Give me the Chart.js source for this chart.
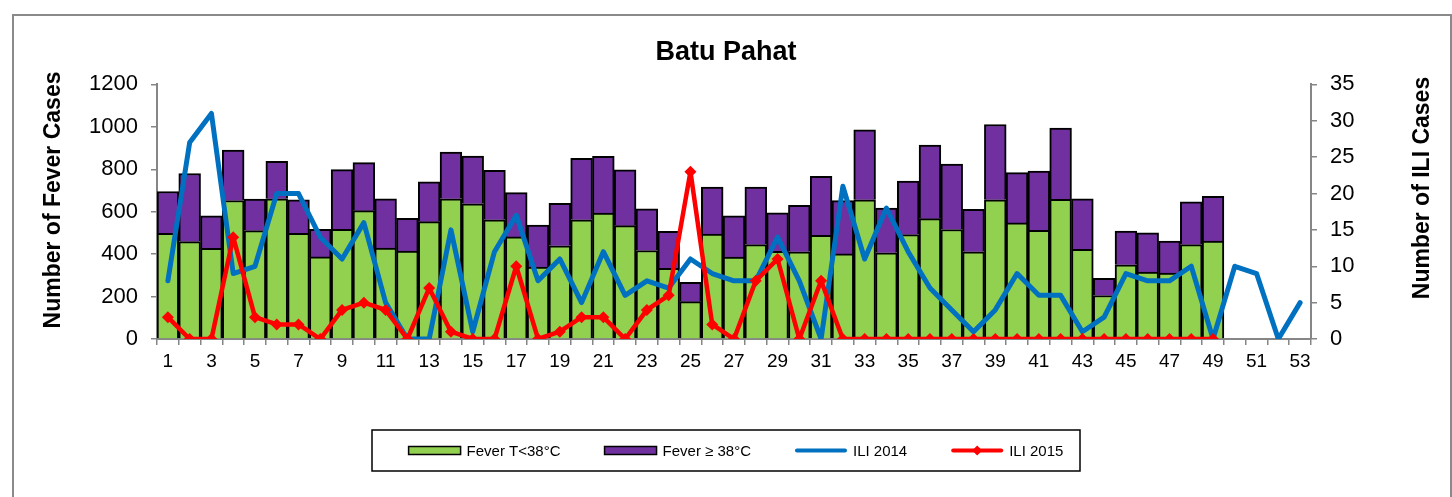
<!DOCTYPE html>
<html>
<head>
<meta charset="utf-8">
<title>Batu Pahat</title>
<script src="https://cdn.jsdelivr.net/npm/chart.js@4.4.1/dist/chart.umd.min.js"></script>
<style>
  html, body { margin: 0; padding: 0; background: #fff; }
  #wrap { position: relative; width: 1452px; height: 497px; overflow: hidden; }
  #frame { position: absolute; left: 12px; top: 14px; width: 1436px; height: 520px; border: 2px solid #8a8a8a; }
  #chart { position: absolute; left: 0; top: 0; }
</style>
</head>
<body>
<div id="wrap">
  <div id="frame"></div>
  <canvas id="chart" width="1452" height="497"></canvas>
</div>
<script>
// Epidemiological weeks
const weeks = ['1','2','3','4','5','6','7','8','9','10','11','12','13','14','15','16','17','18','19','20',
  '21','22','23','24','25','26','27','28','29','30','31','32','33','34','35','36','37','38','39','40',
  '41','42','43','44','45','46','47','48','49','50','51','52','53'];

// Fever cases (left axis), weeks 1-49
const feverLow = [498, 459, 427, 653, 511, 661, 498, 387, 517, 605, 428, 414, 553, 661, 637, 562, 481, 339, 439, 562,
  594, 534, 417, 333, 176, 494, 386, 445, 413, 411, 489, 401, 656, 406, 492, 567, 516, 411, 656, 547,
  512, 658, 423, 205, 350, 316, 311, 445, 462];
const feverHigh = [197, 321, 153, 238, 148, 176, 158, 130, 281, 226, 233, 155, 188, 220, 225, 233, 209, 198, 201, 289,
  267, 263, 197, 175, 91, 222, 194, 271, 182, 219, 278, 251, 330, 211, 252, 347, 309, 200, 355, 237,
  280, 336, 238, 81, 159, 184, 151, 202, 211];

// ILI cases (right axis)
const ili2014 = [8, 27, 31, 9, 10, 20, 20, 14, 11, 16, 5, 0, 0, 15, 1, 12, 17, 8, 11, 5,
  12, 6, 8, 7, 11, 9, 8, 8, 14, 8, 0, 21, 11, 18, 12, 7, 4, 1, 4, 9,
  6, 6, 1, 3, 9, 8, 8, 10, 0, 10, 9, 0, 5];
const ili2015 = [3, 0, 0, 14, 3, 2, 2, 0, 4, 5, 4, 0, 7, 1, 0, 0, 10, 0, 1, 3,
  3, 0, 4, 6, 23, 2, 0, 8, 11, 0, 8, 0, 0, 0, 0, 0, 0, 0, 0, 0,
  0, 0, 0, 0, 0, 0, 0, 0, 0];

const FONT = "'Liberation Sans', Arial, Helvetica, sans-serif";
const AXIS_GREY = '#868686';

Chart.defaults.font.family = FONT;
Chart.defaults.color = '#000';

// rotated axis titles (both read bottom-to-top, like Excel)
const sideTitles = {
  id: 'sideTitles',
  afterDraw(chart) {
    const ctx = chart.ctx;
    ctx.save();
    ctx.font = 'bold 23px ' + FONT;
    ctx.fillStyle = '#000';
    ctx.textAlign = 'center';
    ctx.textBaseline = 'middle';
    [['Number of Fever Cases', 54, 200], ['Number of ILI Cases', 1423, 188]].forEach(([txt, x, y]) => {
      ctx.save();
      ctx.translate(x, y);
      ctx.rotate(-Math.PI / 2);
      ctx.fillText(txt, 0, 0);
      ctx.restore();
    });
    ctx.restore();
  }
};

// boxed legend under the plot
const boxLegend = {
  id: 'boxLegend',
  afterDraw(chart) {
    const ctx = chart.ctx;
    const box = { w: 708, h: 41, top: 430 };
    box.left = chart.width / 2 - box.w / 2;
    const cy = box.top + box.h / 2;
    const sw = 52, gapText = 6, gapItem = 44;

    ctx.save();
    ctx.strokeStyle = '#000';
    ctx.lineWidth = 1.5;
    ctx.strokeRect(box.left, box.top, box.w, box.h);

    ctx.font = '15px ' + FONT;
    ctx.textBaseline = 'middle';
    ctx.textAlign = 'left';
    const items = chart.data.datasets;
    let total = 0;
    items.forEach((ds, i) => {
      total += sw + gapText + ctx.measureText(ds.label).width + (i < items.length - 1 ? gapItem : 0);
    });
    let x = box.left + (box.w - total) / 2 + 10;
    items.forEach(ds => {
      if (ds.type === 'line') {
        ctx.strokeStyle = ds.borderColor;
        ctx.lineWidth = 4;
        ctx.lineCap = 'round';
        ctx.beginPath();
        ctx.moveTo(x + 2, cy);
        ctx.lineTo(x + sw - 2, cy);
        ctx.stroke();
        if (ds.pointRadius > 0) {
          ctx.fillStyle = ds.pointBackgroundColor;
          const r = 5;
          const mx = x + sw / 2;
          ctx.beginPath();
          ctx.moveTo(mx, cy - r);
          ctx.lineTo(mx + r, cy);
          ctx.lineTo(mx, cy + r);
          ctx.lineTo(mx - r, cy);
          ctx.closePath();
          ctx.fill();
        }
      } else {
        ctx.fillStyle = ds.backgroundColor;
        ctx.fillRect(x, cy - 4, sw, 8);
        ctx.strokeStyle = '#000';
        ctx.lineWidth = 1.5;
        ctx.strokeRect(x, cy - 4, sw, 8);
      }
      x += sw + gapText;
      ctx.fillStyle = '#000';
      ctx.fillText(ds.label, x, cy + 1);
      x += ctx.measureText(ds.label).width + gapItem;
    });
    ctx.restore();
  }
};

new Chart(document.getElementById('chart'), {
  type: 'bar',
  data: {
    labels: weeks,
    datasets: [
      {
        label: 'Fever T<38°C',
        data: feverLow,
        backgroundColor: '#92D050',
        borderColor: '#000',
        borderWidth: 2,
        yAxisID: 'y',
        stack: 'fever',
        order: 2
      },
      {
        label: 'Fever ≥ 38°C',
        data: feverHigh,
        backgroundColor: '#7030A0',
        borderColor: '#000',
        borderWidth: 2,
        yAxisID: 'y',
        stack: 'fever',
        order: 2
      },
      {
        type: 'line',
        label: 'ILI 2014',
        data: ili2014,
        borderColor: '#0070C0',
        backgroundColor: '#0070C0',
        borderWidth: 5,
        borderJoinStyle: 'round',
        borderCapStyle: 'round',
        pointRadius: 0,
        tension: 0,
        yAxisID: 'y1',
        order: 1
      },
      {
        type: 'line',
        label: 'ILI 2015',
        data: ili2015,
        borderColor: '#FF0000',
        backgroundColor: '#FF0000',
        pointBackgroundColor: '#FF0000',
        pointBorderColor: '#FF0000',
        pointStyle: 'rectRot',
        pointRadius: 6,
        pointBorderWidth: 0,
        borderWidth: 4.5,
        borderJoinStyle: 'round',
        tension: 0,
        yAxisID: 'y1',
        order: 0
      }
    ]
  },
  options: {
    responsive: false,
    animation: false,
    devicePixelRatio: 1,
    layout: { padding: { left: 0, right: 0, top: 0, bottom: 0 } },
    datasets: {
      bar: { barPercentage: 1, categoryPercentage: 1 }
    },
    plugins: {
      legend: { display: false },
      tooltip: { enabled: false },
      title: {
        display: true,
        text: 'Batu Pahat',
        color: '#000',
        font: { size: 27, weight: 'bold' },
        padding: { top: 36, bottom: 16 }
      }
    },
    scales: {
      x: {
        stacked: true,
        offset: true,
        grid: {
          offset: true,
          drawOnChartArea: false,
          drawTicks: true,
          tickLength: 6,
          color: AXIS_GREY,
          lineWidth: 1.5
        },
        border: { color: AXIS_GREY, width: 2 },
        ticks: {
          autoSkip: false,
          maxRotation: 0,
          minRotation: 0,
          padding: 5,
          color: '#000',
          font: { size: 19 },
          callback: (value, index) => index % 2 === 0 ? weeks[index] : ''
        },
        afterFit: (scale) => { scale.height = 497 - 339; }
      },
      y: {
        position: 'left',
        stacked: true,
        min: 0,
        max: 1200,
        grid: {
          drawOnChartArea: false,
          tickLength: 6,
          color: AXIS_GREY,
          lineWidth: 1.5
        },
        border: { color: AXIS_GREY, width: 2 },
        ticks: {
          stepSize: 200,
          padding: 13,
          color: '#000',
          font: { size: 22 },
          callback: (value) => String(value)
        },
        afterFit: (scale) => { scale.width = 157; }
      },
      y1: {
        position: 'right',
        min: 0,
        max: 35,
        grid: {
          drawOnChartArea: false,
          tickLength: 6,
          color: AXIS_GREY,
          lineWidth: 1.5
        },
        border: { color: AXIS_GREY, width: 2 },
        ticks: {
          stepSize: 5,
          padding: 13,
          color: '#000',
          font: { size: 22 },
          callback: (value) => String(value)
        },
        afterFit: (scale) => { scale.width = 1452 - 1311; }
      }
    }
  },
  plugins: [sideTitles, boxLegend]
});
</script>
</body>
</html>
